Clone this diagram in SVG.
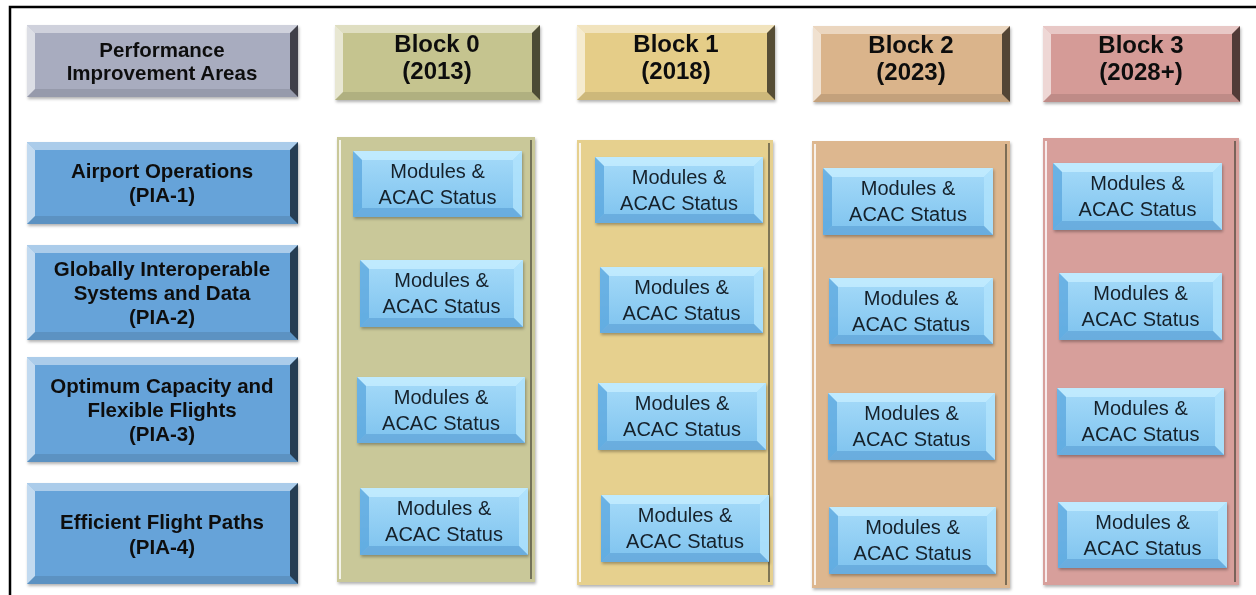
<svg xmlns="http://www.w3.org/2000/svg" width="1256" height="595" viewBox="0 0 1256 595">
<defs>
<linearGradient id="modG" x1="0" y1="0" x2="0" y2="1"><stop offset="0" stop-color="#a6dbf9"/><stop offset="1" stop-color="#7dc2ee"/></linearGradient>
<filter id="sh" x="-5%" y="-5%" width="115%" height="125%"><feDropShadow dx="1" dy="2" stdDeviation="1.5" flood-color="#000" flood-opacity="0.3"/></filter>
</defs>
<style>
text{font-family:"Liberation Sans",Arial,sans-serif;text-anchor:middle;fill:#111}
.b{font-weight:bold}
.h{font-size:20.5px}
.bh{font-size:24px}
.m{font-size:20px;fill:#15202b}
.top{opacity:0.45;fill:#fff}
.lft{opacity:0.6;fill:#fff}
.rgt{opacity:0.62;fill:#000}
.bot{opacity:0.1;fill:#000}
.mtop{fill:#c6edff;opacity:0.8}
.mlft{fill:#5aa5dd;opacity:0.75}
.mrgt{fill:#b2e3fc;opacity:0.8}
.mbot{fill:#5b9ed3;opacity:0.6}
.colL{stroke:#fff;stroke-width:2;opacity:0.8}
.colR{stroke:#3c3c30;stroke-width:2;opacity:0.6}
</style>
<rect width="1256" height="595" fill="#fff"/>
<path d="M10 595 V7 H1256" fill="none" stroke="#000" stroke-width="2.5"/>

<!-- column backgrounds -->
<g id="col0"><rect x="337" y="137" width="198" height="445" fill="#c9c899" filter="url(#sh)"/><line class="colL" x1="340" y1="140" x2="340" y2="579"/><line class="colR" x1="531" y1="140" x2="531" y2="579"/></g>
<g id="col1"><rect x="577" y="140" width="196" height="445" fill="#e6d08e" filter="url(#sh)"/><line class="colL" x1="580" y1="143" x2="580" y2="582"/><line class="colR" x1="769" y1="143" x2="769" y2="582"/></g>
<g id="col2"><rect x="812" y="141" width="198" height="447" fill="#ddb78f" filter="url(#sh)"/><line class="colL" x1="815" y1="144" x2="815" y2="585"/><line class="colR" x1="1006" y1="144" x2="1006" y2="585"/></g>
<g id="col3"><rect x="1043" y="138" width="196" height="447" fill="#d79f9b" filter="url(#sh)"/><line class="colL" x1="1046" y1="141" x2="1046" y2="582"/><line class="colR" x1="1235" y1="141" x2="1235" y2="582"/></g>

<!-- headers -->
<g id="hdrPIA" filter="url(#sh)">
<rect x="27" y="25" width="271" height="72" fill="#a8acbf"/>
<polygon class="top" points="27,25 298,25 290,33 35,33"/>
<polygon class="lft" points="27,25 35,33 35,89 27,97"/>
<polygon class="rgt" points="298,25 298,97 290,89 290,33"/>
<polygon class="bot" points="27,97 298,97 290,89 35,89"/>
<text class="b h" x="162" y="57">Performance</text>
<text class="b h" x="162" y="80">Improvement Areas</text>
</g>
<g id="hdrB0" filter="url(#sh)">
<rect x="335" y="25" width="205" height="75" fill="#c5c48f"/>
<polygon class="top" points="335,25 540,25 532,33 343,33"/>
<polygon class="lft" points="335,25 343,33 343,92 335,100"/>
<polygon class="rgt" points="540,25 540,100 532,92 532,33"/>
<polygon class="bot" points="335,100 540,100 532,92 343,92"/>
<text class="b bh" x="437" y="52">Block 0</text>
<text class="b bh" x="437" y="79">(2013)</text>
</g>
<g id="hdrB1" filter="url(#sh)">
<rect x="577" y="25" width="198" height="75" fill="#e5cd88"/>
<polygon class="top" points="577,25 775,25 767,33 585,33"/>
<polygon class="lft" points="577,25 585,33 585,92 577,100"/>
<polygon class="rgt" points="775,25 775,100 767,92 767,33"/>
<polygon class="bot" points="577,100 775,100 767,92 585,92"/>
<text class="b bh" x="676" y="52">Block 1</text>
<text class="b bh" x="676" y="79">(2018)</text>
</g>
<g id="hdrB2" filter="url(#sh)">
<rect x="813" y="26" width="197" height="76" fill="#dab48b"/>
<polygon class="top" points="813,26 1010,26 1002,34 821,34"/>
<polygon class="lft" points="813,26 821,34 821,94 813,102"/>
<polygon class="rgt" points="1010,26 1010,102 1002,94 1002,34"/>
<polygon class="bot" points="813,102 1010,102 1002,94 821,94"/>
<text class="b bh" x="911" y="53">Block 2</text>
<text class="b bh" x="911" y="80">(2023)</text>
</g>
<g id="hdrB3" filter="url(#sh)">
<rect x="1043" y="26" width="197" height="76" fill="#d59b97"/>
<polygon class="top" points="1043,26 1240,26 1232,34 1051,34"/>
<polygon class="lft" points="1043,26 1051,34 1051,94 1043,102"/>
<polygon class="rgt" points="1240,26 1240,102 1232,94 1232,34"/>
<polygon class="bot" points="1043,102 1240,102 1232,94 1051,94"/>
<text class="b bh" x="1141" y="53">Block 3</text>
<text class="b bh" x="1141" y="80">(2028+)</text>
</g>

<!-- PIA rows -->
<g id="pia1" filter="url(#sh)">
<rect x="27" y="142" width="271" height="82" fill="#66a3d9"/>
<polygon class="top" points="27,142 298,142 290,150 35,150"/>
<polygon class="lft" points="27,142 35,150 35,216 27,224"/>
<polygon class="rgt" points="298,142 298,224 290,216 290,150"/>
<polygon class="bot" points="27,224 298,224 290,216 35,216"/>
<text class="b h" x="162" y="178">Airport Operations</text>
<text class="b h" x="162" y="202">(PIA-1)</text>
</g>
<g id="pia2" filter="url(#sh)">
<rect x="27" y="245" width="271" height="95" fill="#66a3d9"/>
<polygon class="top" points="27,245 298,245 290,253 35,253"/>
<polygon class="lft" points="27,245 35,253 35,332 27,340"/>
<polygon class="rgt" points="298,245 298,340 290,332 290,253"/>
<polygon class="bot" points="27,340 298,340 290,332 35,332"/>
<text class="b h" x="162" y="276">Globally Interoperable</text>
<text class="b h" x="162" y="300">Systems and Data</text>
<text class="b h" x="162" y="324">(PIA-2)</text>
</g>
<g id="pia3" filter="url(#sh)">
<rect x="27" y="357" width="271" height="105" fill="#66a3d9"/>
<polygon class="top" points="27,357 298,357 290,365 35,365"/>
<polygon class="lft" points="27,357 35,365 35,454 27,462"/>
<polygon class="rgt" points="298,357 298,462 290,454 290,365"/>
<polygon class="bot" points="27,462 298,462 290,454 35,454"/>
<text class="b h" x="162" y="393">Optimum Capacity and</text>
<text class="b h" x="162" y="417">Flexible Flights</text>
<text class="b h" x="162" y="441">(PIA-3)</text>
</g>
<g id="pia4" filter="url(#sh)">
<rect x="27" y="483" width="271" height="101" fill="#66a3d9"/>
<polygon class="top" points="27,483 298,483 290,491 35,491"/>
<polygon class="lft" points="27,483 35,491 35,576 27,584"/>
<polygon class="rgt" points="298,483 298,584 290,576 290,491"/>
<polygon class="bot" points="27,584 298,584 290,576 35,576"/>
<text class="b h" x="162" y="529">Efficient Flight Paths</text>
<text class="b h" x="162" y="554">(PIA-4)</text>
</g>

<!-- module boxes -->
<g id="m0-1" filter="url(#sh)"><rect x="353" y="151" width="169" height="66" fill="url(#modG)"/><polygon class="mtop" points="353,151 522,151 513,160 362,160"/><polygon class="mlft" points="353,151 362,160 362,208 353,217"/><polygon class="mrgt" points="522,151 522,217 513,208 513,160"/><polygon class="mbot" points="353,217 522,217 513,208 362,208"/><text class="m" x="437.5" y="178">Modules &amp;</text><text class="m" x="437.5" y="204">ACAC Status</text></g>
<g id="m0-2" filter="url(#sh)"><rect x="360" y="260" width="163" height="67" fill="url(#modG)"/><polygon class="mtop" points="360,260 523,260 514,269 369,269"/><polygon class="mlft" points="360,260 369,269 369,318 360,327"/><polygon class="mrgt" points="523,260 523,327 514,318 514,269"/><polygon class="mbot" points="360,327 523,327 514,318 369,318"/><text class="m" x="441.5" y="287">Modules &amp;</text><text class="m" x="441.5" y="313">ACAC Status</text></g>
<g id="m0-3" filter="url(#sh)"><rect x="357" y="377" width="168" height="66" fill="url(#modG)"/><polygon class="mtop" points="357,377 525,377 516,386 366,386"/><polygon class="mlft" points="357,377 366,386 366,434 357,443"/><polygon class="mrgt" points="525,377 525,443 516,434 516,386"/><polygon class="mbot" points="357,443 525,443 516,434 366,434"/><text class="m" x="441" y="404">Modules &amp;</text><text class="m" x="441" y="430">ACAC Status</text></g>
<g id="m0-4" filter="url(#sh)"><rect x="360" y="488" width="168" height="67" fill="url(#modG)"/><polygon class="mtop" points="360,488 528,488 519,497 369,497"/><polygon class="mlft" points="360,488 369,497 369,546 360,555"/><polygon class="mrgt" points="528,488 528,555 519,546 519,497"/><polygon class="mbot" points="360,555 528,555 519,546 369,546"/><text class="m" x="444" y="515">Modules &amp;</text><text class="m" x="444" y="541">ACAC Status</text></g>

<g id="m1-1" filter="url(#sh)"><rect x="595" y="157" width="168" height="66" fill="url(#modG)"/><polygon class="mtop" points="595,157 763,157 754,166 604,166"/><polygon class="mlft" points="595,157 604,166 604,214 595,223"/><polygon class="mrgt" points="763,157 763,223 754,214 754,166"/><polygon class="mbot" points="595,223 763,223 754,214 604,214"/><text class="m" x="679" y="184">Modules &amp;</text><text class="m" x="679" y="210">ACAC Status</text></g>
<g id="m1-2" filter="url(#sh)"><rect x="600" y="267" width="163" height="66" fill="url(#modG)"/><polygon class="mtop" points="600,267 763,267 754,276 609,276"/><polygon class="mlft" points="600,267 609,276 609,324 600,333"/><polygon class="mrgt" points="763,267 763,333 754,324 754,276"/><polygon class="mbot" points="600,333 763,333 754,324 609,324"/><text class="m" x="681.5" y="294">Modules &amp;</text><text class="m" x="681.5" y="320">ACAC Status</text></g>
<g id="m1-3" filter="url(#sh)"><rect x="598" y="383" width="168" height="67" fill="url(#modG)"/><polygon class="mtop" points="598,383 766,383 757,392 607,392"/><polygon class="mlft" points="598,383 607,392 607,441 598,450"/><polygon class="mrgt" points="766,383 766,450 757,441 757,392"/><polygon class="mbot" points="598,450 766,450 757,441 607,441"/><text class="m" x="682" y="410">Modules &amp;</text><text class="m" x="682" y="436">ACAC Status</text></g>
<g id="m1-4" filter="url(#sh)"><rect x="601" y="495" width="168" height="67" fill="url(#modG)"/><polygon class="mtop" points="601,495 769,495 760,504 610,504"/><polygon class="mlft" points="601,495 610,504 610,553 601,562"/><polygon class="mrgt" points="769,495 769,562 760,553 760,504"/><polygon class="mbot" points="601,562 769,562 760,553 610,553"/><text class="m" x="685" y="522">Modules &amp;</text><text class="m" x="685" y="548">ACAC Status</text></g>

<g id="m2-1" filter="url(#sh)"><rect x="823" y="168" width="170" height="67" fill="url(#modG)"/><polygon class="mtop" points="823,168 993,168 984,177 832,177"/><polygon class="mlft" points="823,168 832,177 832,226 823,235"/><polygon class="mrgt" points="993,168 993,235 984,226 984,177"/><polygon class="mbot" points="823,235 993,235 984,226 832,226"/><text class="m" x="908" y="195">Modules &amp;</text><text class="m" x="908" y="221">ACAC Status</text></g>
<g id="m2-2" filter="url(#sh)"><rect x="829" y="278" width="164" height="66" fill="url(#modG)"/><polygon class="mtop" points="829,278 993,278 984,287 838,287"/><polygon class="mlft" points="829,278 838,287 838,335 829,344"/><polygon class="mrgt" points="993,278 993,344 984,335 984,287"/><polygon class="mbot" points="829,344 993,344 984,335 838,335"/><text class="m" x="911" y="305">Modules &amp;</text><text class="m" x="911" y="331">ACAC Status</text></g>
<g id="m2-3" filter="url(#sh)"><rect x="828" y="393" width="167" height="67" fill="url(#modG)"/><polygon class="mtop" points="828,393 995,393 986,402 837,402"/><polygon class="mlft" points="828,393 837,402 837,451 828,460"/><polygon class="mrgt" points="995,393 995,460 986,451 986,402"/><polygon class="mbot" points="828,460 995,460 986,451 837,451"/><text class="m" x="911.5" y="420">Modules &amp;</text><text class="m" x="911.5" y="446">ACAC Status</text></g>
<g id="m2-4" filter="url(#sh)"><rect x="829" y="507" width="167" height="67" fill="url(#modG)"/><polygon class="mtop" points="829,507 996,507 987,516 838,516"/><polygon class="mlft" points="829,507 838,516 838,565 829,574"/><polygon class="mrgt" points="996,507 996,574 987,565 987,516"/><polygon class="mbot" points="829,574 996,574 987,565 838,565"/><text class="m" x="912.5" y="534">Modules &amp;</text><text class="m" x="912.5" y="560">ACAC Status</text></g>

<g id="m3-1" filter="url(#sh)"><rect x="1053" y="163" width="169" height="67" fill="url(#modG)"/><polygon class="mtop" points="1053,163 1222,163 1213,172 1062,172"/><polygon class="mlft" points="1053,163 1062,172 1062,221 1053,230"/><polygon class="mrgt" points="1222,163 1222,230 1213,221 1213,172"/><polygon class="mbot" points="1053,230 1222,230 1213,221 1062,221"/><text class="m" x="1137.5" y="190">Modules &amp;</text><text class="m" x="1137.5" y="216">ACAC Status</text></g>
<g id="m3-2" filter="url(#sh)"><rect x="1059" y="273" width="163" height="67" fill="url(#modG)"/><polygon class="mtop" points="1059,273 1222,273 1213,282 1068,282"/><polygon class="mlft" points="1059,273 1068,282 1068,331 1059,340"/><polygon class="mrgt" points="1222,273 1222,340 1213,331 1213,282"/><polygon class="mbot" points="1059,340 1222,340 1213,331 1068,331"/><text class="m" x="1140.5" y="300">Modules &amp;</text><text class="m" x="1140.5" y="326">ACAC Status</text></g>
<g id="m3-3" filter="url(#sh)"><rect x="1057" y="388" width="167" height="67" fill="url(#modG)"/><polygon class="mtop" points="1057,388 1224,388 1215,397 1066,397"/><polygon class="mlft" points="1057,388 1066,397 1066,446 1057,455"/><polygon class="mrgt" points="1224,388 1224,455 1215,446 1215,397"/><polygon class="mbot" points="1057,455 1224,455 1215,446 1066,446"/><text class="m" x="1140.5" y="415">Modules &amp;</text><text class="m" x="1140.5" y="441">ACAC Status</text></g>
<g id="m3-4" filter="url(#sh)"><rect x="1058" y="502" width="169" height="66" fill="url(#modG)"/><polygon class="mtop" points="1058,502 1227,502 1218,511 1067,511"/><polygon class="mlft" points="1058,502 1067,511 1067,559 1058,568"/><polygon class="mrgt" points="1227,502 1227,568 1218,559 1218,511"/><polygon class="mbot" points="1058,568 1227,568 1218,559 1067,559"/><text class="m" x="1142.5" y="529">Modules &amp;</text><text class="m" x="1142.5" y="555">ACAC Status</text></g>

<g id="connectors"></g>
</svg>
